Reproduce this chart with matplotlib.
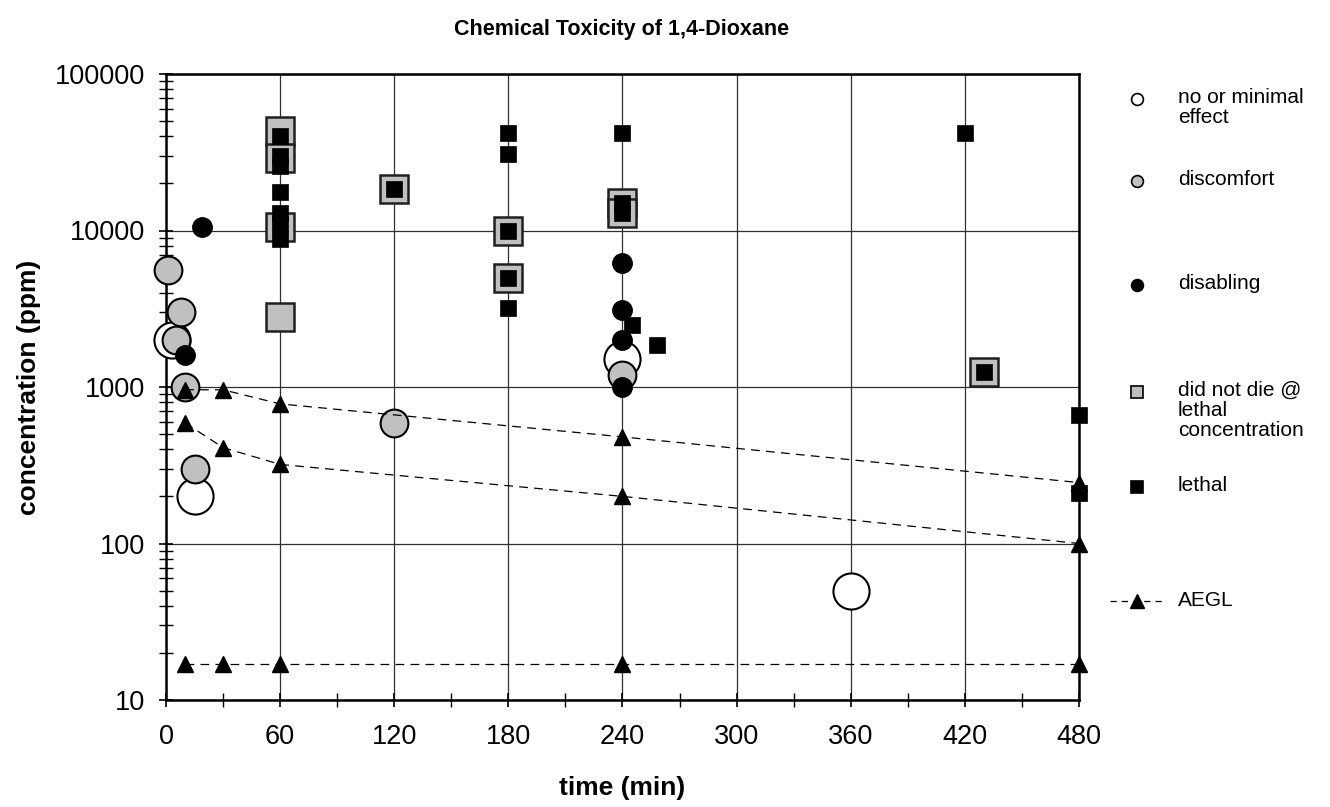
import matplotlib
matplotlib.use("Agg")
import matplotlib.pyplot as plt
from matplotlib.lines import Line2D
from matplotlib.ticker import LogLocator, MultipleLocator, FixedLocator, NullFormatter

plt.rcParams["font.family"] = ["Liberation Sans", "DejaVu Sans"]

# exposure time (min) and concentration (ppm)
no_effect_t = [3, 15, 240, 360]
no_effect_c = [2000, 200, 1500, 50]

discomfort_t = [1, 8, 5, 10, 15, 120, 240]
discomfort_c = [5600, 3000, 2000, 1000, 300, 590, 1200]

disabling_t = [19, 10, 240, 240, 240, 240]
disabling_c = [10500, 1600, 6200, 3100, 2000, 1000]

not_died_t = [60, 60, 60, 60, 120, 180, 180, 240, 240, 430]
not_died_c = [43000, 29000, 10500, 2800, 18500, 10000, 5000, 15000, 13000, 1250]

lethal_t = [60, 60, 60, 60, 60, 60, 60, 120, 180, 180, 180, 180, 180,
            240, 240, 240, 245, 258, 420, 430, 480, 480]
lethal_c = [40000, 30000, 26000, 17500, 13000, 11000, 8800, 18500, 42000, 31000, 10000, 5000, 3200,
            42000, 15000, 13000, 2500, 1850, 42000, 1250, 660, 210]

aegl_t = [10, 30, 60, 240, 480]
aegl3_c = [960, 960, 780, 480, 245]
aegl2_c = [590, 410, 320, 200, 100]
aegl1_c = [17, 17, 17, 17, 17]

x_ticks = [0, 60, 120, 180, 240, 300, 360, 420, 480]
y_ticks = [10, 100, 1000, 10000, 100000]

GRAY = "#c0c0c0"

fig = plt.figure(figsize=(13.3, 8.07), dpi=100)
ax = fig.add_axes([166 / 1330, 1 - 700 / 807, 913 / 1330, 626 / 807])

ax.set_yscale("log")
ax.set_xlim(0, 480)
ax.set_ylim(10, 100000)

ax.plot(no_effect_t, no_effect_c, "o", ms=26, mfc="white", mec="black", mew=1.5, ls="none",
        zorder=3, clip_on=False)
ax.plot(discomfort_t, discomfort_c, "o", ms=20, mfc=GRAY, mec="black", mew=1.5, ls="none",
        zorder=4, clip_on=False)
ax.plot(disabling_t, disabling_c, "o", ms=14, mfc="black", mec="black", mew=1, ls="none",
        zorder=5, clip_on=False)
ax.plot(not_died_t, not_died_c, "s", ms=20, mfc=GRAY, mec="#202020", mew=1.8, ls="none",
        zorder=6, clip_on=False)
ax.plot(lethal_t, lethal_c, "s", ms=11.5, mfc="black", mec="black", mew=0.5, ls="none",
        zorder=7, clip_on=False)
for c in (aegl3_c, aegl2_c, aegl1_c):
    ax.plot(aegl_t, c, "--", color="black", lw=0.9, dashes=(7, 5),
            marker="^", ms=12, mfc="black", mec="black", zorder=8, clip_on=False)

ax.xaxis.set_major_locator(FixedLocator(x_ticks))
ax.xaxis.set_minor_locator(MultipleLocator(30))
ax.yaxis.set_major_locator(FixedLocator(y_ticks))
ax.yaxis.set_minor_locator(LogLocator(base=10, subs=range(2, 10)))
ax.yaxis.set_minor_formatter(NullFormatter())
ax.set_yticklabels([str(v) for v in y_ticks])
ax.set_xticklabels([str(v) for v in x_ticks])

ax.tick_params(which="both", direction="inout", length=10, width=1.2, labelsize=19.5)
ax.tick_params(axis="x", pad=12)
ax.tick_params(axis="y", pad=10)
ax.tick_params(which="minor", length=10, width=1.0)

ax.grid(True, which="major", color="#303030", lw=0.9)
ax.set_axisbelow(True)
for s in ax.spines.values():
    s.set_linewidth(1.8)

ax.set_xlabel("time (min)", fontsize=19, fontweight="bold")
ax.set_ylabel("concentration (ppm)", fontsize=19, fontweight="bold")
ax.xaxis.set_label_coords(0.5, -0.121)
ax.yaxis.set_label_coords(-0.137, 0.5)

fig.text(622 / 1330, 1 - 30 / 807, "Chemical Toxicity of 1,4-Dioxane",
         ha="center", va="center", fontsize=15.5, fontweight="bold")

# legend, placed by hand like the original
legend_items = [
    ("no or minimal\neffect", dict(marker="o", mfc="white", mec="black", ms=8.5), 99),
    ("discomfort", dict(marker="o", mfc=GRAY, mec="black", ms=8.5), 181),
    ("disabling", dict(marker="o", mfc="black", mec="black", ms=8.5), 285),
    ("did not die @\nlethal\nconcentration", dict(marker="s", mfc=GRAY, mec="black", ms=8.5), 392),
    ("lethal", dict(marker="s", mfc="black", mec="black", ms=8.5), 487),
]
for label, style, ypix in legend_items:
    yf = 1 - ypix / 807
    fig.add_artist(Line2D([1137 / 1330], [yf], ls="none", mew=1.2, transform=fig.transFigure, **style))
    fig.text(1178 / 1330, yf + 11 / 807, label, ha="left", va="top", fontsize=15, linespacing=1.05)

yf = 1 - 601 / 807
fig.add_artist(Line2D([1110 / 1330, 1164 / 1330], [yf, yf], ls="--", dashes=(5, 4), color="black",
                      lw=0.9, transform=fig.transFigure))
fig.add_artist(Line2D([1137 / 1330], [yf], marker="^", ms=10, mfc="black", mec="black", ls="none",
                      transform=fig.transFigure))
fig.text(1178 / 1330, yf, "AEGL", ha="left", va="center", fontsize=15)

fig.savefig("out.png", dpi=100)
